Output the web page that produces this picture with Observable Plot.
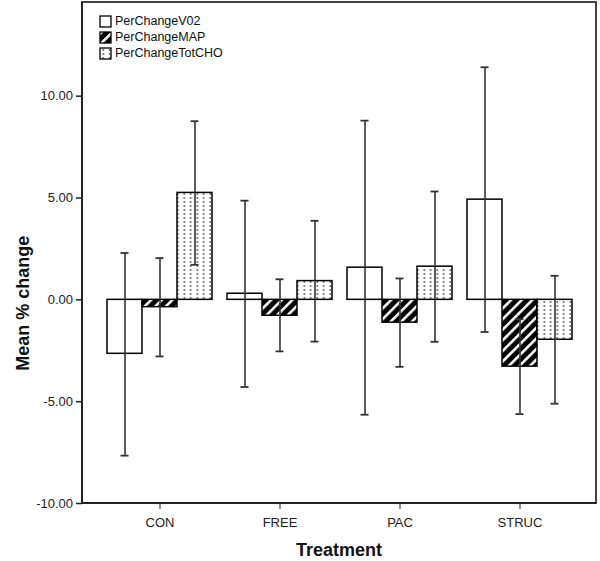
<!DOCTYPE html>
<html>
<head>
<meta charset="utf-8">
<script src="https://cdn.jsdelivr.net/npm/d3@7"></script>
<script src="https://cdn.jsdelivr.net/npm/@observablehq/plot@0.6"></script>
<style>
  html, body { margin: 0; padding: 0; background: #fff; }
  #chart { width: 600px; height: 561px; }
</style>
</head>
<body>
<div id="chart"></div>
<script>
// ---- data ----
const treatments = ["CON", "FREE", "PAC", "STRUC"];
const variables = ["PerChangeV02", "PerChangeMAP", "PerChangeTotCHO"];

const v02Mean = [-2.65, 0.30, 1.58, 4.92];
const v02Lo   = [-7.65, -4.28, -5.64, -1.58];
const v02Hi   = [2.30, 4.87, 8.80, 11.42];

const mapMean = [-0.36, -0.78, -1.12, -3.28];
const mapLo   = [-2.78, -2.53, -3.29, -5.61];
const mapHi   = [2.05, 1.01, 1.05, -0.95];

const choMean = [5.25, 0.92, 1.63, -1.96];
const choLo   = [1.72, -2.05, -2.06, -5.10];
const choHi   = [8.77, 3.88, 5.32, 1.18];

const yTicks = [-10, -5, 0, 5, 10];

const fills = {
  "PerChangeV02": "white",
  "PerChangeMAP": "url(#hatchMAP)",
  "PerChangeTotCHO": "url(#dotsCHO)"
};

const series = [
  [variables[0], v02Mean, v02Lo, v02Hi],
  [variables[1], mapMean, mapLo, mapHi],
  [variables[2], choMean, choLo, choHi]
];
const rows = [];
for (const [v, m, lo, hi] of series) {
  treatments.forEach((t, i) => rows.push({treatment: t, variable: v, mean: m[i], lo: lo[i], hi: hi[i]}));
}

const font = "'Liberation Sans', Arial, sans-serif";

const barMarks = variables.map(v =>
  Plot.barY(rows.filter(d => d.variable === v), {
    fx: "treatment", x: "variable", y: "mean",
    fill: fills[v], stroke: "black", strokeWidth: 1.5
  })
);

const plot = Plot.plot({
  width: 600,
  height: 561,
  marginLeft: 82,
  marginRight: 4,
  marginTop: 2,
  marginBottom: 58,
  style: {fontFamily: font, fontSize: "13px", color: "#222", background: "white"},
  fx: {domain: treatments, paddingInner: 0.125, paddingOuter: 0.204, label: null, axis: "bottom", tickSize: 6, tickPadding: 8},
  x: {domain: variables, padding: 0, axis: null},
  y: {domain: [-10, 14.6], axis: null, label: null},
  marks: [
    ...barMarks,
    Plot.ruleX(rows, {fx: "treatment", x: "variable", y1: "lo", y2: "hi", stroke: "#333", strokeWidth: 1.6}),
    Plot.tickY(rows, {fx: "treatment", x: "variable", y: "lo", inset: 13.5, stroke: "#333", strokeWidth: 1.8}),
    Plot.tickY(rows, {fx: "treatment", x: "variable", y: "hi", inset: 13.5, stroke: "#333", strokeWidth: 1.8})
  ]
});

document.getElementById("chart").appendChild(plot);

// ---- patterns, frame, axes, labels, legend ----
const svg = d3.select(plot.tagName.toLowerCase() === "svg" ? plot : plot.querySelector("svg"));
const defs = svg.insert("defs", ":first-child");

const hatch = defs.append("pattern")
  .attr("id", "hatchMAP").attr("patternUnits", "userSpaceOnUse")
  .attr("width", 7.5).attr("height", 7.5)
  .attr("patternTransform", "rotate(45)");
hatch.append("rect").attr("width", 7.5).attr("height", 7.5).attr("fill", "black");
hatch.append("rect").attr("x", 0).attr("width", 2.6).attr("height", 7.5).attr("fill", "white");

const dots = defs.append("pattern")
  .attr("id", "dotsCHO").attr("patternUnits", "userSpaceOnUse")
  .attr("width", 6.5).attr("height", 4);
dots.append("rect").attr("width", 6.5).attr("height", 4).attr("fill", "white");
dots.append("rect").attr("x", 2.5).attr("y", 1).attr("width", 1.5).attr("height", 2).attr("fill", "#666");

const yScale = plot.scale("y");
const [yBottom, yTop] = yScale.range;
const xLeft = 82, xRight = 600 - 4;
const yLin = d3.scaleLinear(yScale.domain, yScale.range);

// frame
svg.append("rect")
  .attr("x", xLeft).attr("y", yTop)
  .attr("width", xRight - xLeft).attr("height", yBottom - yTop)
  .attr("fill", "none").attr("stroke", "#444").attr("stroke-width", 2);

// y axis (hyphen minus as in the original)
const yAxis = svg.append("g")
  .attr("transform", `translate(${xLeft},0)`)
  .call(d3.axisLeft(yLin).tickValues(yTicks).tickFormat(d => d.toFixed(2)).tickSize(6).tickPadding(3));
yAxis.select(".domain").remove();
yAxis.selectAll("line").attr("stroke", "#222").attr("stroke-width", 1.5);
yAxis.selectAll("text")
  .style("font-family", font).style("font-size", "13px").attr("fill", "#222");

// axis lines
svg.append("line").attr("x1", xLeft).attr("x2", xLeft).attr("y1", yTop).attr("y2", yBottom)
  .attr("stroke", "#222").attr("stroke-width", 2);
svg.append("line").attr("x1", xLeft).attr("x2", xRight).attr("y1", yBottom).attr("y2", yBottom)
  .attr("stroke", "#222").attr("stroke-width", 2);

// axis titles
svg.append("text")
  .attr("transform", `translate(24, ${yLin(0) + 4}) rotate(-90)`)
  .attr("text-anchor", "middle").attr("dominant-baseline", "middle")
  .style("font-family", font).style("font-size", "18px").style("font-weight", "bold").attr("fill", "#111")
  .text("Mean % change");
svg.append("text")
  .attr("x", (xLeft + xRight) / 2).attr("y", 556)
  .attr("text-anchor", "middle")
  .style("font-family", font).style("font-size", "18px").style("font-weight", "bold").attr("fill", "#111")
  .text("Treatment");

// legend
const lg = svg.append("g").attr("transform", "translate(100, 16)");
variables.forEach((v, i) => {
  const g = lg.append("g").attr("transform", `translate(0, ${i * 16})`);
  g.append("rect").attr("width", 11).attr("height", 11)
    .attr("fill", fills[v]).attr("stroke", "black").attr("stroke-width", 1.3);
  g.append("text").attr("x", 15).attr("y", 5.8)
    .attr("text-anchor", "start").attr("dominant-baseline", "middle")
    .style("font-family", font).style("font-size", "12.5px").attr("fill", "#111")
    .text(v);
});
</script>
</body>
</html>
